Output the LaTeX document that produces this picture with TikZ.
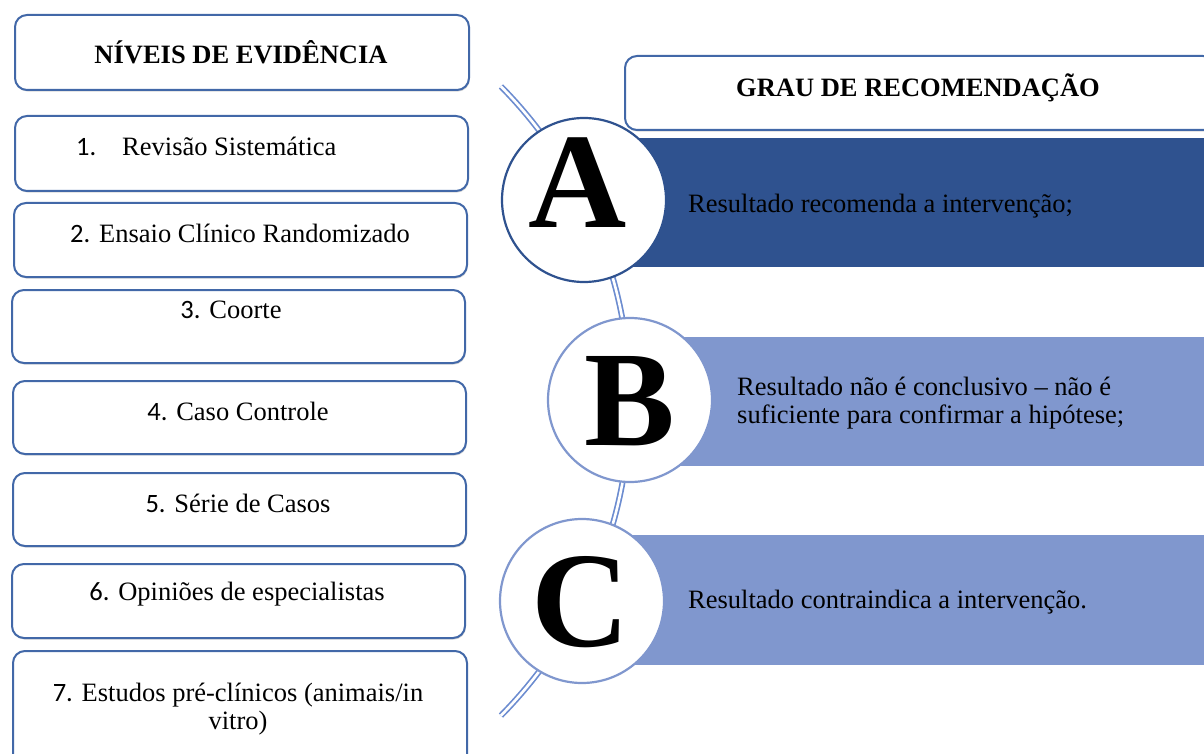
\documentclass[tikz,border=0pt]{standalone}
\usepackage{fontspec}
\setmainfont{Liberation Serif}
\newfontfamily\numfont{Carlito}
\usetikzlibrary{shadows}
\definecolor{boxline}{RGB}{66,104,168}
\definecolor{darkbar}{RGB}{47,82,143}
\definecolor{lightbar}{RGB}{128,151,206}
\definecolor{arccol}{RGB}{108,140,208}
\begin{document}
\begin{tikzpicture}[x=1pt,y=-1pt,
  lbox/.style={draw=boxline, line width=2pt, rounded corners=12pt, fill=white,
    inner sep=0pt, anchor=north west,
    drop shadow={shadow xshift=0.8pt, shadow yshift=-1.6pt, opacity=0.25, fill=black!60}},
  txt/.style={font=\fontsize{26.5}{30}\selectfont, inner sep=0pt},
  htxt/.style={font=\fontsize{26.5}{30}\selectfont\bfseries, inner sep=0pt, anchor=base},
  bar/.style={inner sep=0pt, anchor=north west},
  letter/.style={font=\fontsize{136}{136}\selectfont\bfseries, inner sep=0pt, anchor=base},
  badge/.style={circle, fill=white, line width=2.2pt, minimum size=164pt, inner sep=0pt},
  arcline/.style={draw=arccol, line width=1.7pt, double=white, double distance=2.6pt}
]
\useasboundingbox (0,0) rectangle (1204,754);

% left column
\node[lbox, minimum width=454pt, minimum height=75pt] (h1) at (14,14) {};
\node[lbox, minimum width=453pt, minimum height=75pt] (b1) at (14,115) {};
\node[lbox, minimum width=453pt, minimum height=74pt] (b2) at (13,202) {};
\node[lbox, minimum width=453pt, minimum height=73pt] (b3) at (11,289) {};
\node[lbox, minimum width=453pt, minimum height=73pt] (b4) at (12,380) {};
\node[lbox, minimum width=453pt, minimum height=73pt] (b5) at (12,472) {};
\node[lbox, minimum width=453pt, minimum height=74pt] (b6) at (11,563) {};
\node[lbox, minimum width=454pt, minimum height=130pt] (b7) at (12,650) {};

\node[htxt] (th1) at (241,64) {NÍVEIS DE EVIDÊNCIA};
\node[txt, anchor=base west] (t1) at (76,156) {\makebox[46pt][l]{\numfont 1.}Revisão Sistemática};
\node[txt, anchor=base] (t2) at (240,242) {{\numfont 2.} Ensaio Clínico Randomizado};
\node[txt, anchor=base] (t3) at (231,318) {{\numfont 3.} Coorte};
\node[txt, anchor=base] (t4) at (238,420) {{\numfont 4.} Caso Controle};
\node[txt, anchor=base] (t5) at (238,512) {{\numfont 5.} Série de Casos};
\node[txt, anchor=base] (t6) at (237,600) {{\numfont 6.} Opiniões de especialistas};
\node[txt, anchor=base] (t7a) at (238,701) {{\numfont 7.} Estudos pré-clínicos (animais/in};
\node[txt, anchor=base] (t7b) at (238,729) {vitro)};

% right column
\node[lbox, minimum width=590pt, minimum height=74pt] (h2) at (624,55) {};
\node[htxt] (th2) at (918,97) {GRAU DE RECOMENDAÇÃO};

\coordinate (ac) at (182,401);
\draw[arcline] (ac) ++(-44.6:448) arc[start angle=-44.6, end angle=44.6, radius=448];

\node[bar, fill=darkbar, minimum width=620pt, minimum height=129pt] (barA) at (584,138) {};
\node[bar, fill=lightbar, minimum width=574pt, minimum height=129pt] (barB) at (630,337) {};
\node[bar, fill=lightbar, minimum width=622pt, minimum height=130pt] (barC) at (582,535) {};

\node[badge, draw=darkbar] (cA) at (584,200) {};
\node[badge, draw=lightbar] (cB) at (630,400) {};
\node[badge, draw=lightbar] (cC) at (582,601) {};

\node[letter] (lA) at (577.5,227) {A};
\node[letter] (lB) at (630,445) {B};
\node[letter] (lC) at (581,646) {C};

\node[txt, anchor=base west] (tA) at (688,212) {Resultado recomenda a intervenção;};
\node[txt, anchor=base west] (tB1) at (737,395) {Resultado não é conclusivo – não é};
\node[txt, anchor=base west] (tB2) at (737,423) {suficiente para confirmar a hipótese;};
\node[txt, anchor=base west] (tC) at (688,608) {Resultado contraindica a intervenção.};
\end{tikzpicture}
\end{document}
